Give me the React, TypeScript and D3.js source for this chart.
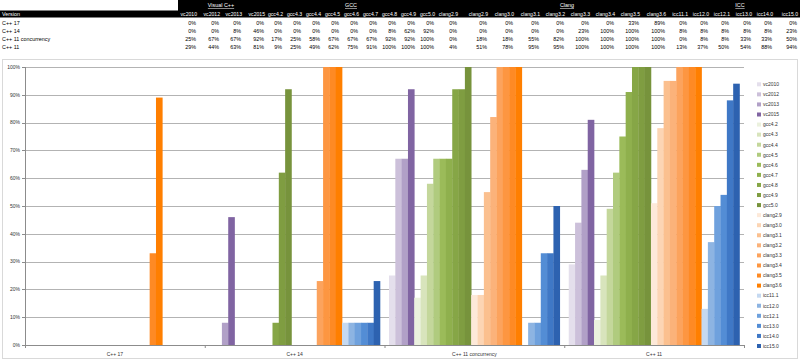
import React from "react";
import * as d3 from "d3";

// ---------- DATA ----------
const tableColumns = [
  "vc2010", "vc2012", "vc2013", "vc2015",
  "gcc4.2", "gcc4.3", "gcc4.4", "gcc4.5", "gcc4.6", "gcc4.7", "gcc4.8", "gcc4.9", "gcc5.0",
  "clang2.9", "clang2.9", "clang3.0", "clang3.1", "clang3.2", "clang3.3", "clang3.4", "clang3.5", "clang3.6",
  "icc11.1", "icc12.0", "icc12.1", "icc13.0", "icc14.0", "icc15.0",
];
const compilerGroups = ["Visual C++", "GCC", "Clang", "ICC"];
const versions = ["C++ 17", "C++ 14", "C++ 11 concurrency", "C++ 11"];

const cpp17 = [0, 0, 0, 0, 0, 0, 0, 0, 0, 0, 0, 0, 0, 0, 0, 0, 0, 0, 0, 0, 33, 89, 0, 0, 0, 0, 0, 0];
const cpp14 = [0, 0, 8, 46, 0, 0, 0, 0, 0, 0, 8, 62, 92, 0, 0, 0, 0, 0, 23, 100, 100, 100, 8, 8, 8, 8, 8, 23];
const cpp11conc = [25, 67, 67, 92, 17, 25, 58, 67, 67, 67, 92, 92, 100, 0, 18, 18, 55, 82, 100, 100, 100, 100, 0, 8, 8, 33, 33, 50];
const cpp11 = [29, 44, 63, 81, 9, 25, 49, 62, 75, 91, 100, 100, 100, 4, 51, 78, 95, 95, 100, 100, 100, 100, 13, 37, 50, 54, 88, 94];
const tableRows = [cpp17, cpp14, cpp11conc, cpp11];

// the chart plots every column except the first (duplicate) clang2.9 column
const hiddenColumn = 13;
const yTicks = [0, 0.1, 0.2, 0.3, 0.4, 0.5, 0.6, 0.7, 0.8, 0.9, 1];

// ---------- STYLE ----------
const seriesColors = [
  "#e4dfec", "#ccc0da", "#b1a0c7", "#8064a2",
  "#ebf1de", "#d8e4bc", "#c4d79b", "#b0cb7e", "#9bbb59", "#8fb04d", "#86a646", "#7f9d41", "#77933c",
  "#fde9d9", "#fcd5b4", "#fbc08f", "#fbb27a", "#fca35d", "#fd9641", "#fe8a24", "#ff7f00",
  "#c5d9f1", "#8db4e2", "#6fa1dd", "#538dd5", "#3f78c6", "#2d62b0",
];
// right edges of table columns
const colRight = [196, 219, 241, 264, 282, 301, 320, 339, 358, 377, 396, 415, 434, 457, 487, 513, 539, 564, 589, 614, 639, 665, 687, 708, 729, 751, 772, 797];
const groupLabelX = [221, 351, 567, 740];
const rowY = [22.5, 30.5, 38.5, 46.5];
const FONT = "'Liberation Sans', Arial, sans-serif";

export default function App() {
  const W = 800, H = 361;
  const plot = { left: 25, right: 744, top: 67, bottom: 345 };

  const seriesNames = tableColumns.filter((_, i) => i !== hiddenColumn);
  const chartRows = tableRows.map((r) => r.filter((_, i) => i !== hiddenColumn));

  const x0 = d3.scaleBand<string>().domain(versions).range([plot.left, plot.right]).paddingInner(0.05).paddingOuter(0.025);
  const x1 = d3.scaleBand<string>().domain(seriesNames).range([0, x0.bandwidth()]).padding(0);
  const y = d3.scaleLinear().domain([0, 1]).range([plot.bottom, plot.top]);
  const pct = d3.format(".0%");

  const step = x0.step();
  const tickXs = d3.range(versions.length + 1).map((i) => plot.left + i * step);

  const legendY = d3.scalePoint<string>().domain(seriesNames).range([84.3, 346]);

  return (
    <svg width={W} height={H} style={{ position: "absolute", left: 0, top: 0, background: "#fff" }} fontFamily={FONT}>
      {/* ---------- table ---------- */}
      <rect x={178} y={0} width={W - 178} height={11} fill="#000" />
      <rect x={0} y={10.5} width={W} height={7} fill="#000" />
      {compilerGroups.map((g, i) => (
        <text key={g} x={groupLabelX[i]} y={7.2} fontSize={5.4} fill="#fff" textAnchor="middle" textDecoration="underline">{g}</text>
      ))}
      <text x={2} y={16} fontSize={5.4} fill="#fff">Version</text>
      {tableColumns.map((c, i) => (
        <text key={"h" + i} x={colRight[i] + 1} y={16} fontSize={5.1} fill="#fff" textAnchor="end">{c}</text>
      ))}
      {versions.map((v, r) => (
        <g key={v}>
          <text x={2} y={rowY[r] + 2} fontSize={5.4} fill="#000">{v}</text>
          {tableRows[r].map((val, i) => (
            <text key={i} x={colRight[i]} y={rowY[r] + 2} fontSize={5.4} fill="#000" textAnchor="end">{val}%</text>
          ))}
        </g>
      ))}

      {/* ---------- chart frame ---------- */}
      <rect x={2.5} y={59.5} width={795} height={299} fill="#fff" stroke="#d9d9d9" />

      {/* gridlines */}
      {yTicks.map((t) => (
        <g key={t}>
          <line x1={plot.left} x2={plot.right} y1={Math.round(y(t)) + 0.5} y2={Math.round(y(t)) + 0.5} stroke="#b3b3b3" strokeWidth={1} />
          <line x1={plot.left - 3} x2={plot.left} y1={Math.round(y(t)) + 0.5} y2={Math.round(y(t)) + 0.5} stroke="#8c8c8c" strokeWidth={1} />
          <text x={plot.left - 5} y={y(t) + 1.8} fontSize={5} fill="#333" textAnchor="end">{pct(t)}</text>
        </g>
      ))}
      <line x1={plot.left + 0.5} x2={plot.left + 0.5} y1={plot.top} y2={plot.bottom} stroke="#8c8c8c" />

      {/* bars */}
      {versions.map((v, r) => (
        <g key={v} transform={`translate(${x0(v)},0)`}>
          {seriesNames.map((s, i) => {
            const val = chartRows[r][i] / 100;
            if (val <= 0) return null;
            return (
              <rect key={i} x={x1(s) as number} y={y(val)} width={x1.bandwidth() + 0.3} height={plot.bottom - y(val)} fill={seriesColors[i]} />
            );
          })}
        </g>
      ))}

      {/* x axis */}
      <line x1={plot.left} x2={plot.right} y1={plot.bottom + 0.5} y2={plot.bottom + 0.5} stroke="#8c8c8c" />
      {tickXs.map((tx, i) => (
        <line key={i} x1={tx + 0.5} x2={tx + 0.5} y1={plot.bottom} y2={plot.bottom + 3} stroke="#8c8c8c" />
      ))}
      {versions.map((v) => (
        <text key={v} x={(x0(v) as number) + x0.bandwidth() / 2} y={356} fontSize={5} fill="#333" textAnchor="middle">{v}</text>
      ))}

      {/* legend */}
      {seriesNames.map((s, i) => (
        <g key={"l" + i} transform={`translate(757,${legendY(s)})`}>
          <rect x={0} y={-2} width={4} height={4} fill={seriesColors[i]} />
          <text x={6} y={1.8} fontSize={5} fill="#333">{s}</text>
        </g>
      ))}
    </svg>
  );
}
